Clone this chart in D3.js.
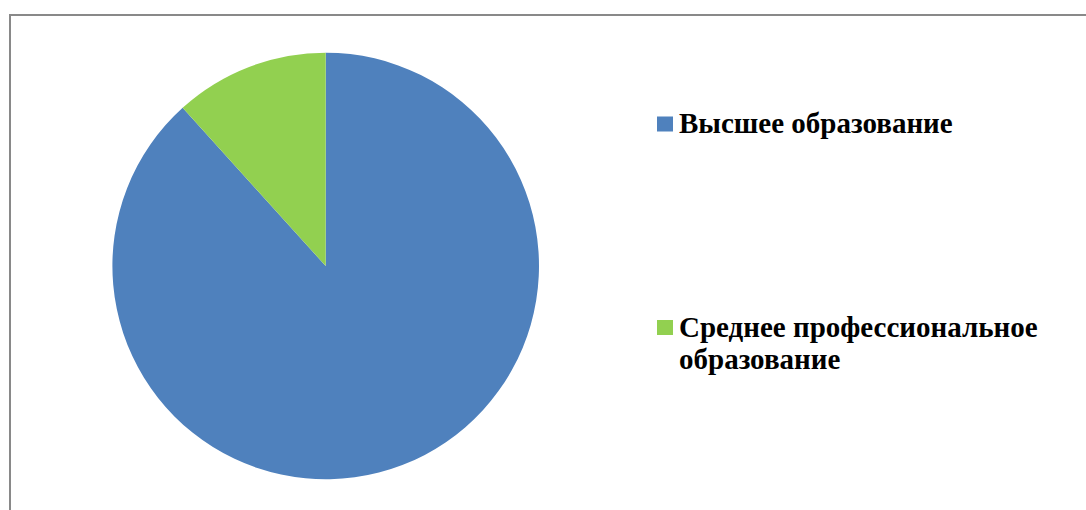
<!DOCTYPE html>
<html><head><meta charset="utf-8">
<script src="https://cdn.jsdelivr.net/npm/d3@7"></script>
<style>html,body{margin:0;padding:0;background:#fff;overflow:hidden}</style>
</head><body>
<svg id="c" width="1086" height="510"></svg>
<script>
const categories = ["Высшее образование", "Среднее профессиональное образование"];
const values = [88.3, 11.7];
const colors = ["#4f81bd", "#92d050"];
const legendLines = [["Высшее образование"], ["Среднее профессиональное", "образование"]];

const svg = d3.select("#c");
svg.append("rect").attr("x", 10).attr("y", 15).attr("width", 1100).attr("height", 520)
  .attr("fill", "#fff").attr("stroke", "#898989").attr("stroke-width", 2);

const cx = 325.7, cy = 266, r = 213.3;
const arcs = d3.pie().sort(null).value(d => d)(values);
const arc = d3.arc().innerRadius(0).outerRadius(r);
svg.append("g").attr("transform", `translate(${cx},${cy})`)
  .selectAll("path").data(arcs).join("path")
  .attr("d", arc).attr("fill", (d, i) => colors[i]);

const leg = svg.append("g");
const items = [{y: 133}, {y: 336.5}];
items.forEach((it, i) => {
  leg.append("rect").attr("x", 657).attr("y", it.y - 16.5).attr("width", 16).attr("height", 15).attr("fill", colors[i]);
  const t = leg.append("text").attr("x", 679).attr("y", it.y)
    .style("font-family", '"Liberation Serif"').style("font-weight", "bold")
    .style("font-size", "29px").attr("fill", "#000");
  legendLines[i].forEach((ln, j) => t.append("tspan").attr("x", 679).attr("dy", j ? 32.6 : 0).text(ln));
});
</script>
</body></html>
